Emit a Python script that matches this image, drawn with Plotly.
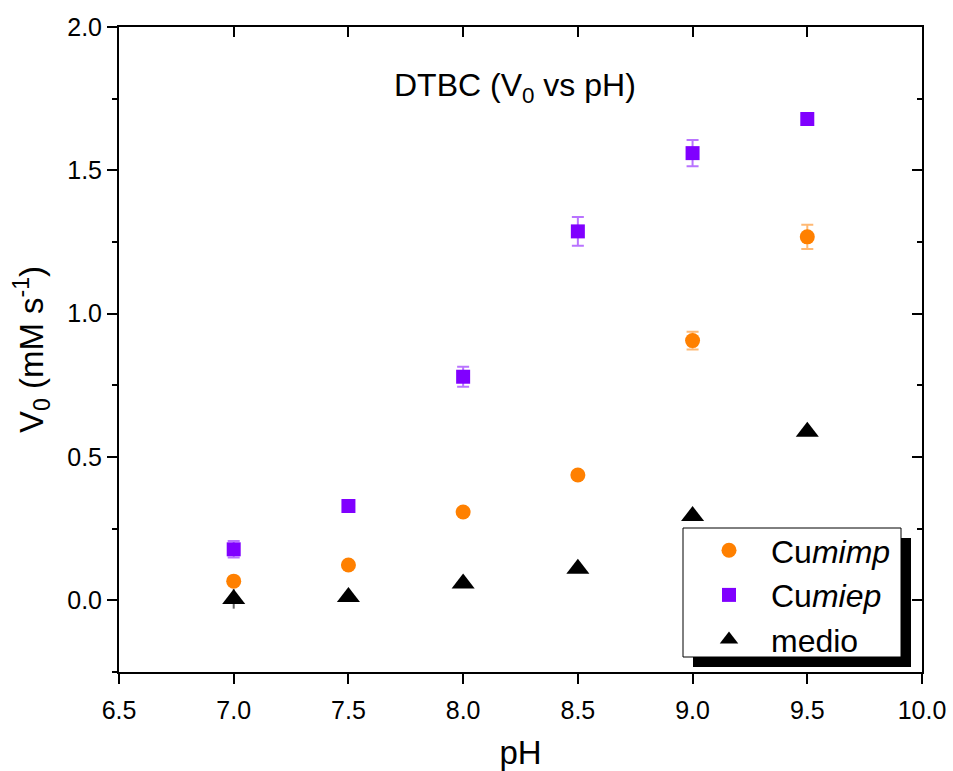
import plotly.graph_objects as go

# ── data ──────────────────────────────────────────────────────────────────────
ph = [7.0, 7.5, 8.0, 8.5, 9.0, 9.5]

cumimp = [0.067, 0.123, 0.308, 0.437, 0.906, 1.268]
cumimp_err = [0.008, 0.008, 0.010, 0.012, 0.031, 0.042]

cumiep = [0.178, 0.329, 0.780, 1.287, 1.560, 1.679]
cumiep_err = [0.029, 0.010, 0.035, 0.050, 0.046, 0.016]

medio = [0.005, 0.012, 0.059, 0.110, 0.294, 0.588]
medio_err = [0.034, 0.006, 0.006, 0.006, 0.006, 0.006]

# ── style ────────────────────────────────────────────────────────────────────
ORANGE = "#FF8000"
PURPLE = "#8000FF"
FONT = "Liberation Sans, Arial, sans-serif"

W, H = 953, 771
L, R, T, B = 119, 31, 27, 99
PW, PH = W - L - R, H - T - B


def px_x(p):
    return (p - L) / PW


def px_y(p):
    return (H - B - p) / PH


fig = go.Figure()

fig.add_trace(go.Scatter(
    x=ph, y=cumimp, mode="markers", name="Cu<i>mimp</i>",
    marker=dict(symbol="circle", size=15, color=ORANGE),
    error_y=dict(type="data", array=cumimp_err, color="rgba(255,128,0,0.55)",
                 thickness=2, width=6),
))
fig.add_trace(go.Scatter(
    x=ph, y=cumiep, mode="markers", name="Cu<i>miep</i>",
    marker=dict(symbol="square", size=14, color=PURPLE),
    error_y=dict(type="data", array=cumiep_err, color="rgba(128,0,255,0.55)",
                 thickness=2, width=6),
))
fig.add_trace(go.Scatter(
    x=ph, y=medio, mode="markers", name="medio",
    marker=dict(symbol="triangle-up", size=20, color="black"),
    error_y=dict(type="data", array=medio_err, color="rgba(60,60,60,0.8)",
                 thickness=2, width=0),
))
# dummy trace so the mirrored (top/right) axes get drawn
fig.add_trace(go.Scatter(
    x=[7.0], y=[0.0], xaxis="x2", yaxis="y2", mode="markers",
    marker=dict(opacity=0), showlegend=False, hoverinfo="skip",
))

# legend box with drop shadow (drawn as shapes, legend itself is transparent)
bx0, bx1, by0, by1 = 683, 901, 528, 657
fig.add_shape(type="rect", xref="paper", yref="paper",
              x0=px_x(bx0 + 10), x1=px_x(bx1 + 10),
              y0=px_y(by1 + 10), y1=px_y(by0 + 10),
              fillcolor="black", line=dict(width=0), layer="above")
fig.add_shape(type="rect", xref="paper", yref="paper",
              x0=px_x(bx0), x1=px_x(bx1), y0=px_y(by1), y1=px_y(by0),
              fillcolor="white", line=dict(color="black", width=1), layer="above")

axis_common = dict(
    showline=True, linecolor="black", linewidth=2,
    showgrid=False, zeroline=False, automargin=False,
    tickcolor="black", tickwidth=2,
    tickfont=dict(family=FONT, size=25, color="black"),
)

fig.update_layout(
    width=W, height=H,
    margin=dict(l=L, r=R, t=T, b=B),
    paper_bgcolor="white", plot_bgcolor="white",
    font=dict(family=FONT, color="black"),
    showlegend=True,
    legend=dict(
        x=px_x(bx0 + 4), y=px_y(by0 - 5), xanchor="left", yanchor="top",
        bgcolor="rgba(0,0,0,0)", borderwidth=0,
        font=dict(family=FONT, size=32, color="black"),
        itemwidth=74, tracegroupgap=0,
    ),
    xaxis=dict(
        axis_common,
        range=[6.5, 10.0], tick0=6.5, dtick=0.5, tickformat=".1f",
        ticks="outside", ticklen=10, ticklabelstandoff=5,
        title=dict(text="pH", font=dict(family=FONT, size=33), standoff=20),
    ),
    yaxis=dict(
        axis_common,
        range=[-0.25, 2.0], tick0=0, dtick=0.5, tickformat=".1f",
        ticks="outside", ticklen=10,
        minor=dict(ticks="outside", ticklen=5, tick0=0, dtick=0.25,
                   tickcolor="black", tickwidth=2),
        title=dict(text="V<sub>0</sub> (mM s<sup>-1</sup>)",
                   font=dict(family=FONT, size=33), standoff=14),
    ),
    xaxis2=dict(
        axis_common, overlaying="x", side="top", anchor="y2",
        range=[6.5, 10.0], tick0=6.5, dtick=0.5,
        ticks="inside", ticklen=10, showticklabels=False,
    ),
    yaxis2=dict(
        axis_common, overlaying="y", side="right", anchor="x2",
        range=[-0.25, 2.0], tick0=0, dtick=0.5,
        ticks="inside", ticklen=10, showticklabels=False,
        minor=dict(ticks="inside", ticklen=5, tick0=0, dtick=0.25,
                   tickcolor="black", tickwidth=2),
    ),
    annotations=[
        dict(
            text="DTBC (V<sub>0</sub> vs pH)",
            xref="paper", yref="paper", x=px_x(515), y=px_y(87),
            xanchor="center", yanchor="middle", showarrow=False,
            font=dict(family=FONT, size=32, color="black"),
        )
    ],
)

# page body has an 8px default margin; drop it so the figure fills the window
fig.write_html("out.html", config=dict(displayModeBar=False),
               post_script="document.body.style.margin='0';")
